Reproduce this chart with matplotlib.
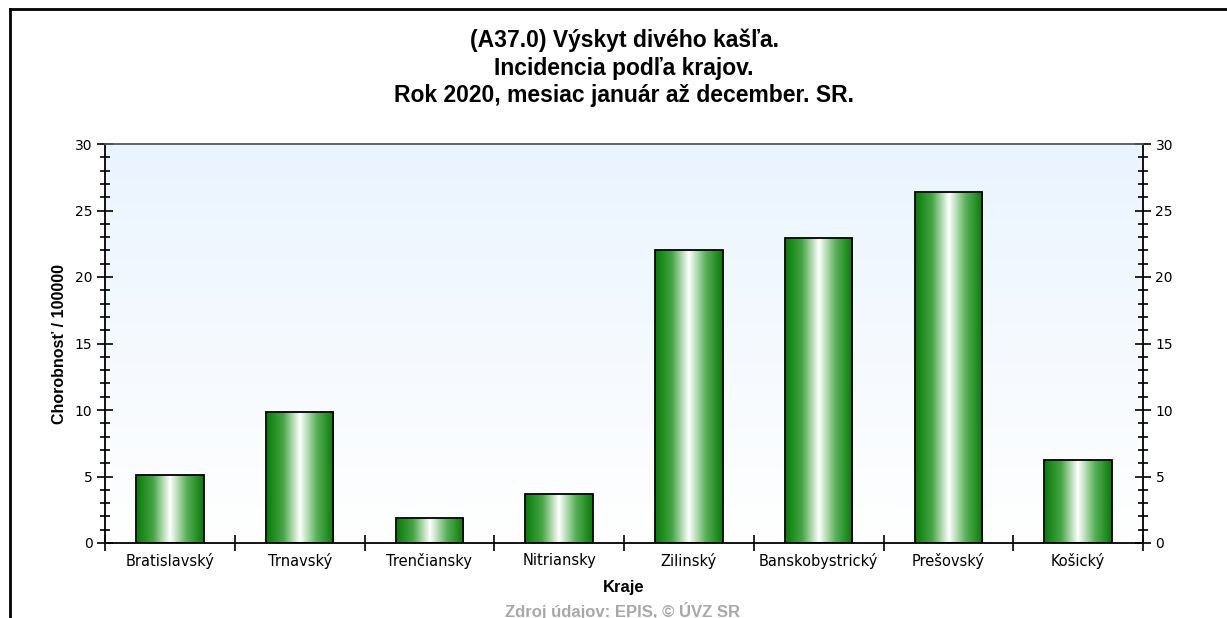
import numpy as np
import matplotlib
matplotlib.use('Agg')
import matplotlib.pyplot as plt
from matplotlib.colors import LinearSegmentedColormap
from matplotlib.ticker import MultipleLocator
from matplotlib.lines import Line2D

# tick labels in a Tahoma-like face, headings in an Arial-like one
plt.rcParams['font.family'] = ['DejaVu Sans']
ARIAL = ['Liberation Sans', 'DejaVu Sans']

regions = ['Bratislavský', 'Trnavský', 'Trenčiansky', 'Nitriansky',
           'Zilinský', 'Banskobystrický', 'Prešovský', 'Košický']
incidence = [5.11, 9.85, 1.88, 3.68, 22.03, 22.93, 26.39, 6.24]

title = ('(A37.0) Výskyt divého kašľa.\n'
         'Incidencia podľa krajov.\n'
         'Rok 2020, mesiac január až december. SR.')
ylabel = 'Chorobnosť / 100000'
xlabel = 'Kraje'
source = 'Zdroj údajov: EPIS, © ÚVZ SR'

W, H = 1227, 618
fig = plt.figure(figsize=(W / 100, H / 100), dpi=100)
ax = fig.add_axes([105 / W, 1 - 543 / H, (1143 - 105) / W, (543 - 144) / H])

# plot area background: light blue at top fading to white
bg = LinearSegmentedColormap.from_list('bg', ['#ffffff', '#eaf4fe'])
ax.imshow(np.linspace(0, 1, 256).reshape(-1, 1)[::-1], cmap=bg, aspect='auto',
          extent=[0, 1, 0, 1], transform=ax.transAxes, zorder=0)

x = np.arange(len(regions))
bars = ax.bar(x, incidence, width=0.52, color='none', edgecolor='black',
              linewidth=1.3, zorder=3)

# cylinder-like shading on each bar
green = LinearSegmentedColormap.from_list(
    'green', ['#067a06', '#45a545', '#ffffff', '#58b058', '#067a06'])
grad = np.linspace(0, 1, 256).reshape(1, -1)
for b in bars:
    x0, y0 = b.get_x(), b.get_y()
    im = ax.imshow(grad, cmap=green, aspect='auto', zorder=2,
                   extent=[x0, x0 + b.get_width(), y0, y0 + b.get_height()])
    im.set_clip_path(b)

ax.set_xlim(-0.5, len(regions) - 0.5)
ax.set_ylim(0, 30)

ax.yaxis.set_major_locator(MultipleLocator(5))
ax.yaxis.set_minor_locator(MultipleLocator(1))
ax.yaxis.set_ticks_position('both')
ax.tick_params(axis='y', which='both', direction='inout', labelright=True,
               labelsize=10, pad=3, width=1.2)
ax.tick_params(axis='y', which='major', length=12)
ax.tick_params(axis='y', which='minor', length=7)

ax.set_xticks(x)
ax.set_xticklabels(regions)
ax.set_xticks(np.arange(len(regions) + 1) - 0.5, minor=True)
ax.tick_params(axis='x', which='major', length=0, labelsize=10.5, pad=7)
ax.tick_params(axis='x', which='minor', direction='inout', length=12, width=1.2)

for side in ['left', 'right', 'bottom']:
    ax.spines[side].set_linewidth(1.3)
    ax.spines[side].set_color('black')
ax.spines['top'].set_color('#555555')
ax.spines['top'].set_linewidth(1.3)

ax.set_ylabel(ylabel, fontsize=11.5, fontweight='bold', labelpad=6, family=ARIAL)
ax.set_xlabel(xlabel, fontsize=12, fontweight='bold', labelpad=8, family=ARIAL)

fig.text(0.5 * (105 + 1143) / W, 1 - 68 / H, title, ha='center', va='center',
         fontsize=16.5, fontweight='bold', linespacing=1.25, family=ARIAL)
fig.text(623 / W, 1 - 611 / H, source, ha='center', va='center',
         fontsize=12, fontweight='bold', color='#a8a8a8', family=ARIAL)

# outer frame: left and top edges
fig.add_artist(Line2D([9.5 / W, 9.5 / W], [0, 1 - 8.5 / H], color='black',
                      linewidth=2, transform=fig.transFigure))
fig.add_artist(Line2D([9.5 / W, 1], [1 - 8.5 / H, 1 - 8.5 / H], color='black',
                      linewidth=2, transform=fig.transFigure))

fig.savefig('out.png', dpi=100)
